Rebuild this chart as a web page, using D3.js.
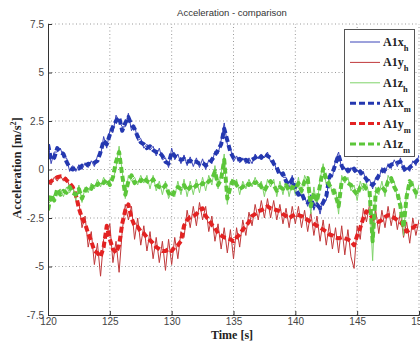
<!DOCTYPE html>
<html>
<head>
<meta charset="utf-8">
<script src="https://cdn.jsdelivr.net/npm/d3@7"></script>
<style>
  body { margin: 0; background: #fff; }
  svg { display: block; }
</style>
</head>
<body>
<div id="chart"></div>
<script>
// sample times: 120 .. 150 s every 0.25 s
const time = d3.range(0, 121).map(i => 120 + i * 0.25);

const xTicks = [120, 125, 130, 135, 140, 145, 150];
const yTicks = [-7.5, -5, -2.5, 0, 2.5, 5, 7.5];

// measured (h) - thin solid lines
const a1xH = [1.5,0.3,0.9,0.9,1.1,0.6,0.6,-0.1,0.2,-0.1,0.25,0.0,0.35,0.1,0.45,0.15,0.7,0.7,1.7,1.1,
  2.0,1.9,2.8,2.5,2.2,2.2,2.9,2.0,2.3,1.5,1.6,1.1,1.3,1.0,1.2,0.7,1.1,0.5,0.6,0.1,
  1.1,0.5,0.8,0.3,0.75,0.2,0.65,0.15,0.6,0.1,0.55,0.0,0.5,0.3,0.95,0.8,1.5,2.4,1.3,1.1,
  0.4,0.7,0.35,0.6,0.3,0.6,0.3,0.8,0.55,0.8,0.6,0.9,0.4,0.5,-0.1,-0.1,-0.4,-0.4,-1.0,-0.3,
  -1.2,-1.1,-1.4,-1.4,-1.9,-1.3,-2.1,-1.6,-2.3,-1.5,-1.6,-0.2,-0.4,0.5,0.9,0.0,0.1,-0.2,0.1,-0.15,
  0.0,-0.3,-0.1,-0.7,-0.5,-1.0,-0.4,-0.5,0.1,-0.2,0.3,0.05,0.5,0.15,0.6,-0.1,0.1,-0.1,0.45,0.2,0.75];

const a1yH = [-0.6,-0.8,-0.4,-0.6,-0.3,-0.6,-0.4,-0.9,-0.8,-1.6,-1.7,-3.0,-2.4,-4.0,-3.2,-4.9,-3.8,-5.5,-3.6,-3.4,
  -2.8,-4.8,-3.7,-5.3,-3.2,-1.8,-2.6,-1.9,-3.6,-2.5,-3.9,-2.9,-4.2,-3.2,-4.6,-3.5,-4.8,-3.7,-5.2,-3.6,
  -4.9,-3.5,-4.6,-3.2,-3.5,-2.1,-3.0,-1.9,-2.9,-1.7,-2.6,-1.9,-3.2,-2.4,-3.7,-2.8,-4.1,-3.0,-4.3,-3.1,
  -4.6,-3.0,-4.0,-2.6,-3.4,-2.2,-2.9,-1.8,-2.6,-1.6,-2.5,-1.5,-2.5,-1.6,-2.6,-1.8,-2.8,-2.0,-3.0,-1.9,
  -2.8,-1.9,-3.0,-2.1,-3.2,-2.2,-3.4,-2.4,-3.7,-2.6,-3.9,-2.8,-4.1,-3.0,-4.3,-2.9,-4.4,-3.1,-4.5,-5.1,
  -2.9,-3.6,-2.0,-2.7,-1.8,-3.1,-2.1,-3.3,-2.1,-3.0,-1.9,-2.9,-2.0,-3.1,-2.2,-3.5,-2.7,-3.8,-2.5,-3.4,-2.6];

const a1zH = [-1.8,-1.6,-1.3,-1.2,-1.0,-1.4,-0.9,-1.2,-0.9,-1.6,-0.8,-1.7,-0.9,-1.2,-0.7,-1.0,-0.5,-0.9,-0.4,-0.8,
  -0.5,-0.6,0.1,1.2,-0.1,-1.5,-0.3,-0.6,-0.4,-0.8,-0.3,-0.7,-0.3,-1.0,-0.3,-1.1,-0.6,-1.3,-0.6,-1.5,
  -1.1,-1.4,-0.6,-1.3,-0.5,-1.4,-0.6,-1.3,-0.5,-1.2,-0.4,-1.1,-0.3,-0.8,0.2,-1.0,-0.2,0.8,-1.8,-0.6,
  -0.8,-0.5,-1.3,-0.6,-1.0,-0.5,-0.9,-0.4,-0.9,-0.6,-1.4,-0.5,-0.9,-0.5,-1.4,-0.6,-1.3,-0.5,-1.4,-0.6,
  -1.3,-0.4,-1.4,-0.3,-0.7,-2.3,-0.9,-1.9,-0.5,0.3,-0.8,-0.5,-1.3,-1.0,-2.3,-0.3,-0.7,-0.4,-1.1,-0.8,
  -1.6,-0.6,-1.1,-0.7,-1.4,-4.7,-0.9,-1.3,-0.6,-1.4,-0.3,-0.7,-0.6,-1.5,-1.6,-3.4,-1.1,-0.9,-0.6,-1.5,-0.8];

// model (m) - thick dashed lines
const a1xM = [1.3,0.5,0.6,1.1,0.9,0.8,0.4,0.1,0.0,0.1,0.05,0.2,0.15,0.3,0.25,0.35,0.45,0.9,1.5,1.3,
  1.8,2.2,2.5,2.7,2.0,2.4,2.7,2.3,2.1,1.7,1.4,1.3,1.1,1.2,1.0,0.9,0.9,0.7,0.4,0.3,
  0.9,0.7,0.6,0.5,0.55,0.4,0.45,0.35,0.4,0.3,0.35,0.2,0.3,0.5,0.75,1.0,1.3,2.1,1.5,0.9,
  0.6,0.5,0.55,0.4,0.5,0.4,0.5,0.6,0.75,0.6,0.8,0.7,0.6,0.3,0.1,-0.3,-0.2,-0.6,-0.8,-0.5,
  -1.0,-1.3,-1.2,-1.6,-1.7,-1.5,-1.9,-1.8,-2.0,-1.7,-1.4,-0.4,-0.2,0.3,0.75,0.2,-0.1,0.0,-0.1,0.05,
  -0.2,-0.1,-0.3,-0.5,-0.7,-0.8,-0.6,-0.3,-0.1,0.0,0.1,0.25,0.3,0.35,0.4,0.1,-0.1,0.1,0.25,0.4,0.55];

const a1yM = [-0.7,-0.6,-0.5,-0.4,-0.35,-0.4,-0.55,-0.7,-0.9,-1.3,-2.0,-2.5,-2.8,-3.3,-3.7,-4.2,-4.3,-4.5,-4.0,-2.9,
  -3.6,-4.1,-4.3,-3.9,-2.8,-2.1,-1.8,-2.5,-2.9,-2.95,-3.2,-3.3,-3.5,-3.65,-3.8,-4.0,-4.1,-4.2,-4.2,-4.1,
  -4.2,-4.0,-3.9,-3.7,-2.9,-2.6,-2.45,-2.4,-2.3,-2.1,-2.0,-2.4,-2.6,-2.85,-3.0,-3.3,-3.4,-3.5,-3.55,-3.6,
  -3.7,-3.5,-3.35,-3.1,-2.9,-2.7,-2.4,-2.3,-2.15,-2.1,-2.0,-1.9,-2.0,-2.05,-2.1,-2.15,-2.3,-2.4,-2.5,-2.4,
  -2.3,-2.35,-2.4,-2.5,-2.6,-2.7,-2.8,-2.9,-3.0,-3.1,-3.2,-3.35,-3.4,-3.5,-3.55,-3.5,-3.55,-3.6,-3.7,-3.9,
  -3.4,-3.0,-2.5,-2.15,-2.3,-2.5,-2.6,-2.7,-2.6,-2.45,-2.35,-2.4,-2.5,-2.6,-2.7,-2.9,-3.2,-3.1,-3.0,-2.9,-3.0];

const a1zM = [-2.1,-1.3,-1.6,-1.0,-1.3,-1.1,-1.2,-0.9,-1.2,-1.3,-1.0,-1.5,-1.1,-0.9,-1.0,-0.7,-0.8,-0.6,-0.7,-0.5,
  -0.8,-0.4,0.4,0.9,-0.3,-1.3,-0.6,-0.3,-0.7,-0.5,-0.6,-0.4,-0.6,-0.7,-0.5,-0.8,-0.9,-1.0,-0.8,-1.2,
  -1.4,-1.1,-0.9,-1.0,-0.8,-1.1,-0.9,-1.0,-0.8,-0.9,-0.7,-0.8,-0.6,-0.5,-0.1,-0.8,-0.5,0.5,-1.5,-0.9,
  -0.5,-0.8,-1.0,-0.9,-0.7,-0.8,-0.6,-0.7,-0.6,-0.9,-1.1,-0.8,-0.6,-0.8,-1.1,-0.9,-1.0,-0.8,-1.1,-0.9,
  -1.0,-0.7,-1.1,-0.6,-0.45,-1.9,-1.2,-1.65,-0.8,0.05,-0.5,-0.8,-1.0,-1.3,-1.9,-0.6,-0.45,-0.7,-0.8,-1.1,
  -1.3,-0.9,-0.8,-1.0,-1.1,-3.7,-1.2,-1.0,-0.9,-1.1,-0.6,-0.45,-0.9,-1.2,-1.9,-3.0,-1.4,-0.6,-0.9,-1.2,-1.0];

const series = [
  { name: "A1x", sub: "h", values: a1xH, color: "#3a44b8", width: 1, dash: null },
  { name: "A1y", sub: "h", values: a1yH, color: "#c0393b", width: 1, dash: null },
  { name: "A1z", sub: "h", values: a1zH, color: "#7fd36a", width: 1, dash: null },
  { name: "A1x", sub: "m", values: a1xM, color: "#2438b0", width: 4, dash: "6,3" },
  { name: "A1y", sub: "m", values: a1yM, color: "#e32222", width: 4, dash: "6,3" },
  { name: "A1z", sub: "m", values: a1zM, color: "#5cc63a", width: 4, dash: "6,3" }
];

const W = 420, H = 344;
const margin = { left: 48, right: 1, top: 24, bottom: 29 };

const svg = d3.select("#chart").append("svg")
  .attr("width", W)
  .attr("height", H);

const x = d3.scaleLinear().domain([120, 150]).range([margin.left, W - margin.right]);
const y = d3.scaleLinear().domain([-7.5, 7.5]).range([H - margin.bottom, margin.top]);

// grid
const grid = svg.append("g").attr("class", "grid")
  .attr("stroke", "#9a9a9a")
  .attr("stroke-dasharray", "1,2.5");
grid.selectAll(".gx").data(xTicks.slice(1)).enter().append("line")
  .attr("x1", d => x(d)).attr("x2", d => x(d))
  .attr("y1", y(-7.5)).attr("y2", y(7.5));
grid.selectAll(".gy").data(yTicks.slice(1)).enter().append("line")
  .attr("x1", x(120)).attr("x2", x(150))
  .attr("y1", d => y(d)).attr("y2", d => y(d));

svg.append("clipPath").attr("id", "clip")
  .append("rect")
  .attr("x", x(120)).attr("y", y(7.5))
  .attr("width", x(150) - x(120)).attr("height", y(-7.5) - y(7.5));

const line = d3.line()
  .x((d, i) => x(time[i]))
  .y(d => y(d));

const plot = svg.append("g").attr("clip-path", "url(#clip)");
series.forEach(s => {
  plot.append("path")
    .datum(s.values)
    .attr("fill", "none")
    .attr("stroke", s.color)
    .attr("stroke-width", s.width)
    .attr("stroke-dasharray", s.dash)
    .attr("stroke-linejoin", "round")
    .attr("d", line);
});

// axes
const xAxis = d3.axisBottom(x).tickValues(xTicks).tickSize(-4).tickPadding(3);
const yAxis = d3.axisLeft(y).tickValues(yTicks).tickSize(-4).tickPadding(4)
  .tickFormat(d => d === 0 ? "0" : String(d));

const gx = svg.append("g")
  .attr("transform", `translate(0,${y(-7.5)})`)
  .call(xAxis);
const gy = svg.append("g")
  .attr("transform", `translate(${x(120)},0)`)
  .call(yAxis);

[gx, gy].forEach(g => {
  g.select(".domain").attr("stroke", "#333");
  g.selectAll(".tick line").attr("stroke", "#333");
  g.selectAll("text")
    .attr("fill", "#444")
    .style("font-family", "Liberation Sans, Arial, sans-serif")
    .style("font-size", "10px");
});

// title and labels
svg.append("text")
  .attr("x", 232).attr("y", 16)
  .attr("text-anchor", "middle")
  .attr("fill", "#333")
  .style("font-family", "Liberation Sans, Arial, sans-serif")
  .style("font-size", "9.5px")
  .text("Acceleration - comparison");

svg.append("text")
  .attr("x", 232).attr("y", 339)
  .attr("text-anchor", "middle")
  .attr("fill", "#222")
  .style("font-family", "Liberation Serif, serif")
  .style("font-weight", "bold")
  .style("font-size", "12px")
  .text("Time [s]");

const yl = svg.append("text")
  .attr("transform", "translate(21,168) rotate(-90)")
  .attr("text-anchor", "middle")
  .attr("fill", "#222")
  .style("font-family", "Liberation Serif, serif")
  .style("font-weight", "bold")
  .style("font-size", "12.5px");
yl.append("tspan").text("Acceleration [m/s");
yl.append("tspan").attr("dy", -5).style("font-size", "8px").text("2");
yl.append("tspan").attr("dy", 5).text("]");

// legend
const legend = svg.append("g");
legend.append("rect")
  .attr("x", 344.5).attr("y", 29.5)
  .attr("width", 70).attr("height", 127)
  .attr("fill", "#fff")
  .attr("stroke", "#555");

const rowY = d3.scalePoint().domain(d3.range(series.length)).range([42, 144]);
series.forEach((s, i) => {
  const yy = rowY(i);
  legend.append("line")
    .attr("x1", 350).attr("x2", 380)
    .attr("y1", yy).attr("y2", yy)
    .attr("stroke", s.color)
    .attr("stroke-width", s.width === 1 ? 1 : 3)
    .attr("stroke-dasharray", s.dash);
  const t = legend.append("text")
    .attr("x", 383).attr("y", yy + 4)
    .attr("fill", "#222")
    .style("font-family", "Liberation Serif, serif")
    .style("font-weight", "bold")
    .style("font-size", "12px");
  t.append("tspan").text(s.name);
  t.append("tspan").attr("dy", 5).style("font-size", "8.5px").text(s.sub);
});
</script>
</body>
</html>
